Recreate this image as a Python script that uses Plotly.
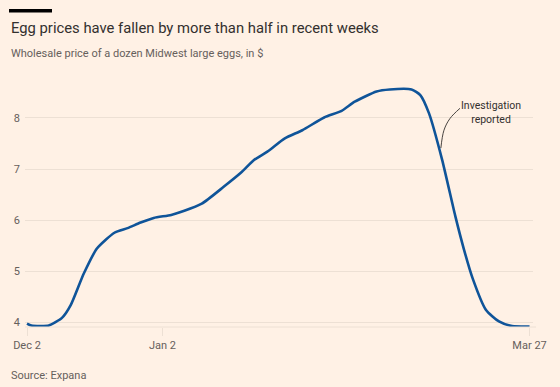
import plotly.graph_objects as go
from datetime import date, timedelta

# ---- data ----
start = date(2024, 12, 2)
day_offsets = [0, 1, 3, 5, 8, 10, 13, 16, 20, 23, 26, 29, 33, 36, 40, 45, 49, 52, 55, 59,
               63, 68, 72, 75, 80, 83, 88, 90, 92, 95, 98, 100, 102, 105, 108, 111, 115]
prices = [3.97, 3.93, 3.92, 3.93, 4.08, 4.33, 4.95, 5.44, 5.75, 5.84, 5.95, 6.04, 6.10, 6.18,
          6.32, 6.65, 6.93, 7.18, 7.34, 7.60, 7.76, 8.01, 8.14, 8.32, 8.52, 8.56, 8.56, 8.45,
          8.09, 7.18, 6.08, 5.42, 4.85, 4.24, 4.01, 3.92, 3.91]
dates = [start + timedelta(days=d) for d in day_offsets]

y_ticks = [4, 5, 6, 7, 8]
x_tick_vals = ["2024-12-02", "2025-01-02", "2025-03-27"]
x_tick_text = ["Dec 2", "Jan 2", "Mar 27"]

note_text = "Investigation<br>reported"
note_x = "2025-03-18 07:00"
note_y = 8.10
conn_x = ["2025-03-11 02:00", "2025-03-08 19:00", "2025-03-07 10:00", "2025-03-06 17:00"]
conn_y = [8.19, 7.99, 7.76, 7.41]

# ---- style ----
BG = "#fff1e5"
GRID = "#ede0d4"
TXT = "#33302e"
SUB = "#66605c"
BLUE = "#0f5499"

W, H = 560, 387
L, R, T, B = 25, 27, 75, 60
PW, PH = W - L - R, H - T - B

def px(x):
    return (x - L) / PW

def py(y):
    return (H - B - y) / PH

fig = go.Figure()
fig.add_trace(go.Scatter(x=dates, y=prices, mode="lines",
                         line=dict(color=BLUE, width=2.6, shape="spline", smoothing=0.6),
                         hoverinfo="skip", showlegend=False))
fig.add_trace(go.Scatter(x=conn_x, y=conn_y, mode="lines",
                         line=dict(color=TXT, width=0.9, shape="spline", smoothing=1),
                         hoverinfo="skip", showlegend=False))

fig.update_layout(
    width=W, height=H,
    margin=dict(l=L, r=R, t=T, b=B),
    paper_bgcolor=BG, plot_bgcolor=BG,
    font=dict(family="Roboto", color=SUB),
    showlegend=False,
    xaxis=dict(type="date", range=["2024-12-01 13:00", "2025-03-27 19:00"],
               tickvals=x_tick_vals, ticktext=x_tick_text,
               showgrid=False, zeroline=False, showline=False,
               ticks="outside", ticklen=8, tickcolor=GRID, tickwidth=1,
               tickfont=dict(size=11, color=SUB)),
    yaxis=dict(range=[3.902, 8.843], tickvals=y_ticks,
               showgrid=True, gridcolor=GRID, gridwidth=1, zeroline=False,
               showline=False, ticks="", ticklabelstandoff=4,
               tickfont=dict(size=11, color=SUB)),
    shapes=[
        dict(type="line", xref="paper", yref="paper", x0=0, x1=1.006, y0=0, y1=0,
             line=dict(color=GRID, width=1)),
        dict(type="rect", xref="paper", yref="paper", x0=px(9), x1=px(52), y0=py(12.5), y1=py(9),
             fillcolor="#000000", line=dict(width=0)),
    ],
    annotations=[
        dict(text="Egg prices have fallen by more than half in recent weeks", xref="paper", yref="paper",
             x=px(9), y=py(28), xanchor="left", yanchor="middle", showarrow=False,
             font=dict(size=14.8, color=TXT, family="Roboto")),
        dict(text="Wholesale price of a dozen Midwest large eggs, in $", xref="paper", yref="paper",
             x=px(9), y=py(53), xanchor="left", yanchor="middle", showarrow=False,
             font=dict(size=11, color=SUB, family="Roboto")),
        dict(text="Source: Expana", xref="paper", yref="paper",
             x=px(9), y=py(375), xanchor="left", yanchor="middle", showarrow=False,
             font=dict(size=11, color=SUB, family="Roboto")),
        dict(text=note_text, x=note_x, y=note_y, xref="x", yref="y",
             xanchor="center", yanchor="middle", showarrow=False, align="center",
             font=dict(size=10.5, color=TXT, family="Roboto")),
    ],
)

fig.write_html("out.html", config={"displayModeBar": False},
               post_script="document.body.style.margin='0';document.body.style.overflow='hidden';")
